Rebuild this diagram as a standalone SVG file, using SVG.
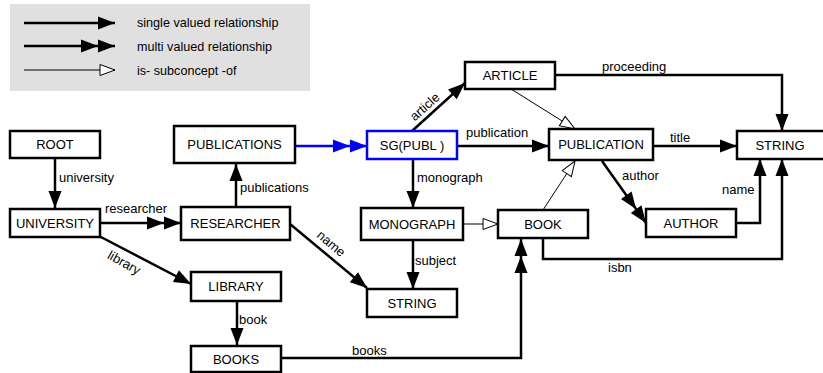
<svg xmlns="http://www.w3.org/2000/svg" width="823" height="373" viewBox="0 0 823 373">
<style>
text { font-family: "Liberation Sans", Arial, sans-serif; font-size: 13px; fill: #000; }
.node rect { fill: #fff; stroke: #000; stroke-width: 2.5; }
.node text { text-anchor: middle; }
.blue rect { stroke: #0000ff; }
.c { fill: none; stroke: #000; stroke-width: 2.5; }
.thin { fill: none; stroke: #000; stroke-width: 1; }
.cb { fill: none; stroke: #0000ff; stroke-width: 2.5; }
.leg { font-size: 12.6px; }
</style>
<defs>
<marker id="s" markerUnits="userSpaceOnUse" markerWidth="17" markerHeight="13" refX="17" refY="6.5" orient="auto" overflow="visible">
<path d="M0,0 L17,6.5 L0,13 z" fill="#000"/>
</marker>
<marker id="m" markerUnits="userSpaceOnUse" markerWidth="34" markerHeight="13" refX="34" refY="6.5" orient="auto" overflow="visible">
<path d="M0,0 L17,6.5 L0,13 z M17,0 L34,6.5 L17,13 z" fill="#000"/>
</marker>
<marker id="mb" markerUnits="userSpaceOnUse" markerWidth="34" markerHeight="13" refX="34" refY="6.5" orient="auto" overflow="visible">
<path d="M0,0 L17,6.5 L0,13 z M17,0 L34,6.5 L17,13 z" fill="#0000ff"/>
</marker>
<marker id="h" markerUnits="userSpaceOnUse" markerWidth="17" markerHeight="13" refX="16" refY="6.5" orient="auto" overflow="visible">
<path d="M1,1 L16,6.5 L1,12 z" fill="#fff" stroke="#000" stroke-width="1"/>
</marker>
</defs>

<g id="legend">
<rect x="10" y="4" width="300" height="87" fill="#e0e0e0"/>
<path class="c" d="M24,23 L115,23" marker-end="url(#s)"/>
<path class="c" d="M24,46 L115,46" marker-end="url(#m)"/>
<path class="thin" d="M24,70 L115,70" marker-end="url(#h)"/>
<text class="leg" x="137" y="27">single valued relationship</text>
<text class="leg" x="137" y="51">multi valued relationship</text>
<text class="leg" x="137" y="75">is- subconcept -of</text>
</g>

<g id="connectors">
<path class="c" d="M55,158 L55,208" marker-end="url(#s)"/>
<text x="59" y="182">university</text>
<path class="c" d="M100,223 L181,223" marker-end="url(#m)"/>
<text x="105" y="213">researcher</text>
<path class="c" d="M99,236 L191,284" marker-end="url(#s)"/>
<text transform="translate(124,263) rotate(29)" x="0" y="4" text-anchor="middle">library</text>
<path class="c" d="M236,207 L236,164" marker-end="url(#s)"/>
<text x="240" y="192">publications</text>
<path class="cb" d="M295,146 L367,146" marker-end="url(#mb)"/>
<path class="c" d="M290,224 L367,288" marker-end="url(#s)"/>
<text transform="translate(331,244) rotate(40)" x="0" y="4" text-anchor="middle">name</text>
<path class="c" d="M237,301 L237,345" marker-end="url(#s)"/>
<text x="239" y="324">book</text>
<path class="c" d="M281,358 L521,358 L521,239" marker-end="url(#m)"/>
<text x="352" y="355">books</text>
<path class="c" d="M412,131 L465,83" marker-end="url(#s)"/>
<text transform="translate(425,107) rotate(-42)" x="0" y="4" text-anchor="middle">article</text>
<path class="c" d="M457,146 L549,146" marker-end="url(#s)"/>
<text x="466" y="137">publication</text>
<path class="c" d="M413,159 L413,208" marker-end="url(#s)"/>
<text x="417" y="182">monograph</text>
<path class="c" d="M413,240 L413,289" marker-end="url(#s)"/>
<text x="415" y="265">subject</text>
<path class="thin" d="M463,224 L498,224" marker-end="url(#h)"/>
<path class="thin" d="M511,89 L575,129" marker-end="url(#h)"/>
<path class="thin" d="M543,210 L575,161" marker-end="url(#h)"/>
<path class="c" d="M555,75 L782,75 L782,131" marker-end="url(#s)"/>
<text x="602" y="71">proceeding</text>
<path class="c" d="M653,146 L737,146" marker-end="url(#s)"/>
<text x="670" y="142">title</text>
<path class="c" d="M602,161 L646,223" marker-end="url(#m)"/>
<text x="622" y="180">author</text>
<path class="c" d="M736,223 L760,223 L760,159" marker-end="url(#s)"/>
<text x="722" y="194">name</text>
<path class="c" d="M543,238 L543,259 L782,259 L782,159" marker-end="url(#s)"/>
<text x="608" y="272">isbn</text>
</g>

<g id="root" class="node"><rect x="10" y="131" width="90" height="27"/><text x="55" y="149">ROOT</text></g>
<g id="university" class="node"><rect x="10" y="209" width="90" height="28"/><text x="55" y="228">UNIVERSITY</text></g>
<g id="publications" class="node"><rect x="174" y="126" width="121" height="37"/><text x="234.5" y="149">PUBLICATIONS</text></g>
<g id="researcher" class="node"><rect x="181" y="207" width="109" height="33"/><text x="235.5" y="228">RESEARCHER</text></g>
<g id="library" class="node"><rect x="191" y="272" width="90" height="29"/><text x="236" y="291">LIBRARY</text></g>
<g id="books" class="node"><rect x="191" y="346" width="90" height="26"/><text x="236" y="364">BOOKS</text></g>
<g id="sg-publ" class="node blue"><rect x="367" y="131" width="90" height="28"/><text x="412" y="150">SG(PUBL )</text></g>
<g id="article" class="node"><rect x="465" y="62" width="90" height="27"/><text x="510" y="80">ARTICLE</text></g>
<g id="monograph" class="node"><rect x="361" y="208" width="102" height="32"/><text x="412" y="229">MONOGRAPH</text></g>
<g id="string2" class="node"><rect x="367" y="289" width="90" height="28"/><text x="412" y="308">STRING</text></g>
<g id="publication" class="node"><rect x="549" y="129" width="104" height="31"/><text x="601" y="149">PUBLICATION</text></g>
<g id="book" class="node"><rect x="498" y="210" width="90" height="28"/><text x="543" y="229">BOOK</text></g>
<g id="author" class="node"><rect x="646" y="209" width="90" height="28"/><text x="691" y="228">AUTHOR</text></g>
<g id="string1" class="node"><rect x="737" y="131" width="90" height="28"/><text x="780" y="150">STRING</text></g>
</svg>
